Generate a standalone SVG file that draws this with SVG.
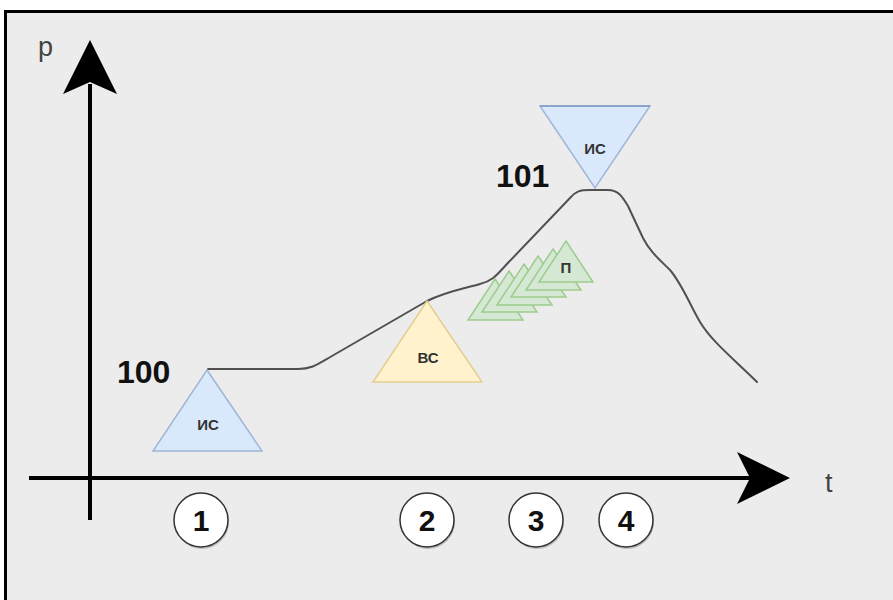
<svg xmlns="http://www.w3.org/2000/svg" width="893" height="600" viewBox="0 0 893 600">
<style>
.axis{stroke:#000;stroke-width:4;fill:none}
.head{fill:#000}
.curve{stroke:#505050;stroke-width:2;fill:none;stroke-linejoin:round;stroke-linecap:round}
.blue{fill:#dae8fc;stroke:#9fb5d8;stroke-width:1.5}
.yellow{fill:#fff2cc;stroke:#e3cf8f;stroke-width:1.5}
.green{fill:#d5e8d4;stroke:#9ccc8c;stroke-width:1.5}
.tri-label{font-family:"Liberation Sans",Arial,sans-serif;font-weight:bold;font-size:15px;fill:#333;text-anchor:middle}
.val{font-family:"Liberation Sans",Arial,sans-serif;font-weight:bold;font-size:32px;fill:#111}
.axlab{font-family:"Liberation Sans",Arial,sans-serif;font-size:27px;fill:#444}
.num circle{fill:#fff;stroke:#333;stroke-width:1.5}
.num .sh{fill:#bbb;stroke:none}
.num text{font-family:"Liberation Sans",Arial,sans-serif;font-weight:bold;font-size:30px;fill:#111;text-anchor:middle}
</style>
<rect x="0" y="0" width="893" height="600" fill="#fff"/>
<rect x="5.5" y="11.5" width="1000" height="700" fill="#ececec" stroke="#000" stroke-width="3"/>

<g id="axes">
<line class="axis" x1="90" y1="84" x2="90" y2="520" stroke-width="3.5"/>
<polygon class="head" points="90,40 117,94 90,82 63,94"/>
<line class="axis" x1="29" y1="478" x2="752" y2="478"/>
<polygon class="head" points="790,478 737,452 750,478 737,504"/>
<text class="axlab" x="38" y="56">p</text>
<text class="axlab" x="825" y="492">t</text>
</g>

<g id="connectors">
<path class="curve" d="M208,369 L298,369 C312,369 318,364 332,356 L427,301 C445,292 462,289 480,284 C492,281 496,276 506,265 L570,198 C576,191 580,190 590,190 L608,190 C618,190 622,196 628,206 L643,238 C650,252 660,260 670,270 C682,284 690,305 700,322 C712,342 735,360 757,382"/>
</g>

<g id="val100"><text class="val" x="117" y="383">100</text></g>
<g id="val101"><text class="val" x="496" y="187">101</text></g>

<g id="is1">
<polygon class="blue" points="207,370 262,451 153,451"/>
<text class="tri-label" x="208" y="430">ИС</text>
</g>

<g id="vs">
<polygon class="yellow" points="427,301 482,382 373,382"/>
<text class="tri-label" x="428" y="363">ВС</text>
</g>

<g id="p">
<polygon class="green" points="495,279 523,320 468,320"/>
<polygon class="green" points="509,271 537,312 482,312"/>
<polygon class="green" points="524,264 552,305 497,305"/>
<polygon class="green" points="538,256 566,297 511,297"/>
<polygon class="green" points="553,249 581,290 526,290"/>
<polygon class="green" points="566,241 593,282 539,282"/>
<text class="tri-label" x="566" y="273">П</text>
</g>

<g id="is2">
<polygon class="blue" points="540,106 650,106 595,188"/>
<line x1="540" y1="106" x2="650" y2="106" stroke="#8aa3c8" stroke-width="2"/>
<text class="tri-label" x="595" y="154">ИС</text>
</g>

<g id="n1" class="num"><circle class="sh" cx="202" cy="522" r="27"/><circle cx="201" cy="520" r="27"/><text x="201" y="531">1</text></g>
<g id="n2" class="num"><circle class="sh" cx="428" cy="522" r="27"/><circle cx="427" cy="520" r="27"/><text x="427" y="531">2</text></g>
<g id="n3" class="num"><circle class="sh" cx="537" cy="522" r="27"/><circle cx="536" cy="520" r="27"/><text x="536" y="531">3</text></g>
<g id="n4" class="num"><circle class="sh" cx="627" cy="522" r="27"/><circle cx="626" cy="520" r="27"/><text x="626" y="531">4</text></g>
</svg>
